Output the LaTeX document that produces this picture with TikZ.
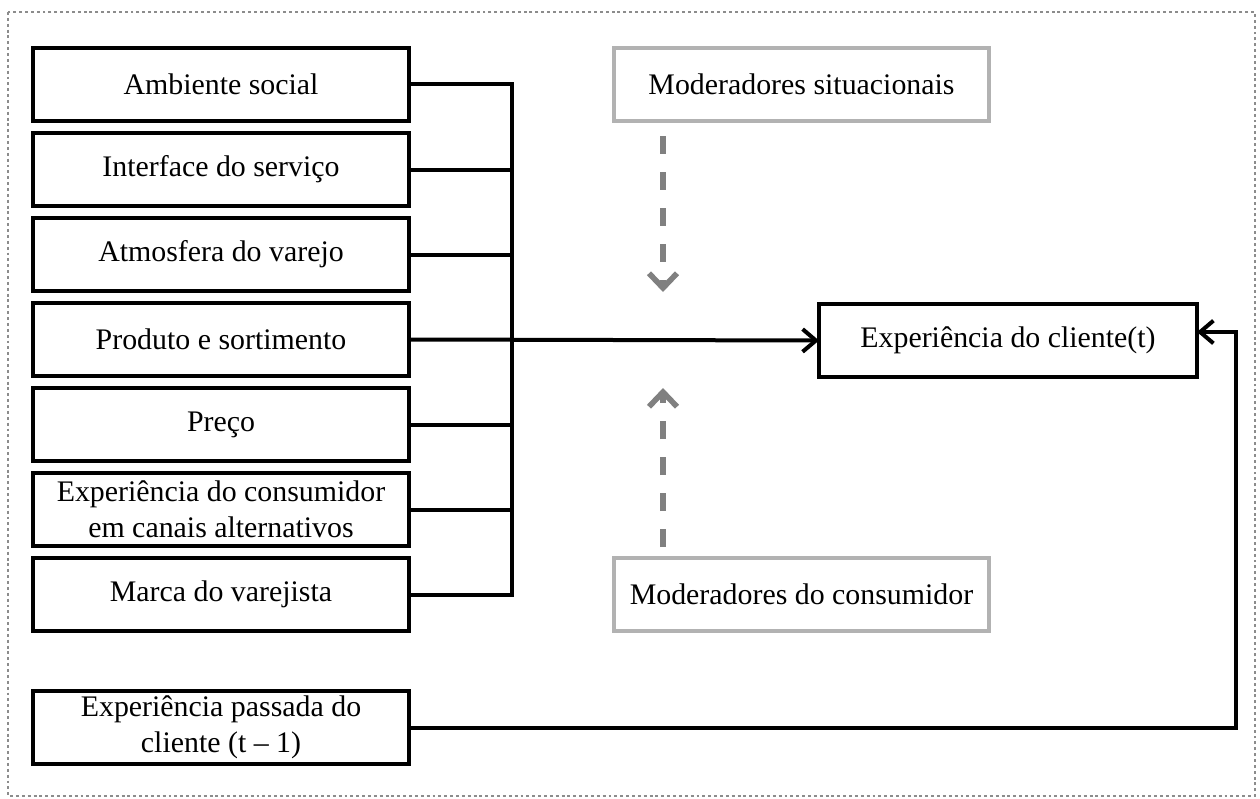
\documentclass[tikz,border=0pt]{standalone}
\usepackage{fontspec}
\setmainfont{Liberation Serif}
\usetikzlibrary{arrows.meta}
\begin{document}
\begin{tikzpicture}[x=0.75pt,y=-0.75pt,
  txt/.style={font=\fontsize{22.4pt}{27pt}\selectfont, align=center, inner sep=0pt, outer sep=0pt},
  factor/.style={txt, draw=black, line width=3pt, minimum width=282pt, minimum height=54.75pt},
  moder/.style={txt, draw=black!30, line width=2.6pt, minimum width=281.25pt, minimum height=54.75pt},
  outcome/.style={txt, draw=black, line width=3pt, minimum width=283.5pt, minimum height=54.75pt},
  link/.style={line width=3pt, black},
  barb/.style={-{Straight Barb[length=10pt,width=17pt,line width=3pt]}},
  mainarrow/.style={link, barb},
  modarrow/.style={line width=4.5pt, black!50, dash pattern=on 13.5pt off 13.5pt,
    -{Straight Barb[length=11pt,width=21pt,line width=4.2pt]}},
  frame/.style={black!45, line width=1.8pt, dash pattern=on 2.2pt off 2.2pt}]
\useasboundingbox (0,0) rectangle (1260,799);

% outer frame
\draw[frame] (8,12) rectangle (1255,796);

% antecedent factors
\node[factor] (b1) at (221,84.5)  {Ambiente social};
\node[factor] (b2) at (221,169.5) {Interface do serviço};
\node[factor] (b3) at (221,254.5) {Atmosfera do varejo};
\node[factor] (b4) at (221,339.5) {Produto e sortimento};
\node[factor] (b5) at (221,424.5) {Preço};
\node[factor] (b6) at (221,509.5) {Experiência do consumidor\\em canais alternativos};
\node[factor] (b7) at (221,594.5) {Marca do varejista};
\node[factor] (b8) at (221,727.5) {Experiência passada do\\cliente (t – 1)};

% moderators
\node[moder] (ms) at (801.5,84.5)  {Moderadores situacionais};
\node[moder] (mc) at (801.5,594.5) {Moderadores do consumidor};

% outcome
\node[outcome] (exp) at (1008,340.5) {Experiência do cliente(t)};

% collecting bus
\coordinate (bus) at (512,0);
\foreach \b in {b1,b2,b3,b5,b6,b7}
  \draw[link] (\b.east) -- (\b.east -| bus);
\draw[link, line cap=rect] (b1.east -| bus) -- (b7.east -| bus);
\draw[mainarrow] (b4.east) -- (exp.west);

% moderating effects
\coordinate (mstop) at (663,136);
\coordinate (mstip) at (663,292);
\coordinate (mcbot) at (663,547);
\coordinate (mctip) at (663,388);
\draw[modarrow] (mstop) -- (mstip);
\draw[modarrow] (mcbot) -- (mctip);

% feedback from past experience
\coordinate (fb) at (1236,332);
\draw[link, barb] (b8.east) -| (fb) -- (fb -| exp.east);
\end{tikzpicture}
\end{document}
